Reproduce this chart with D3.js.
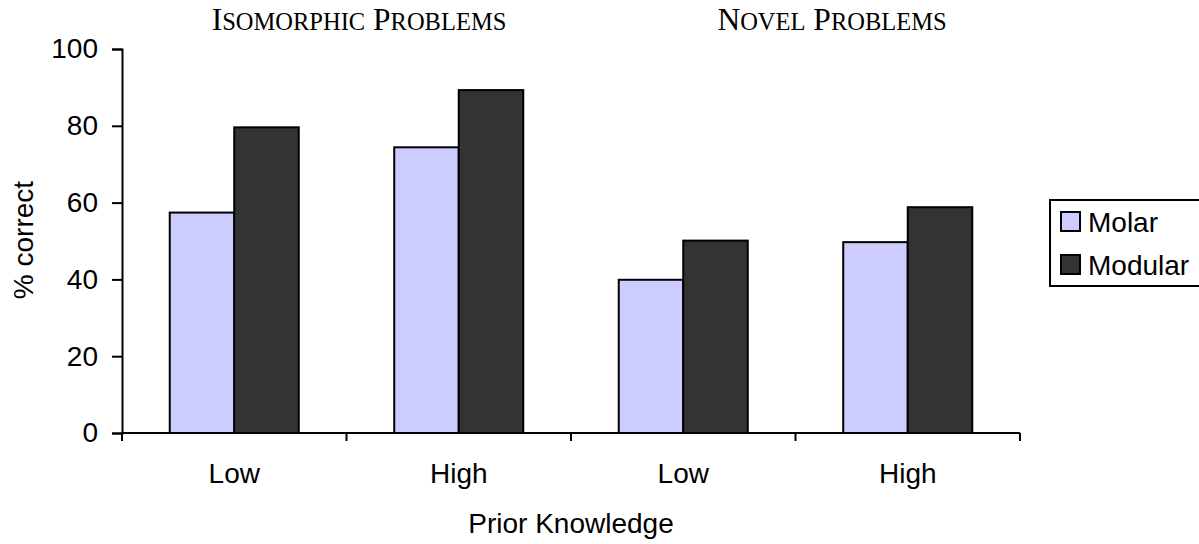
<!DOCTYPE html>
<html>
<head>
<meta charset="utf-8">
<script src="https://cdn.jsdelivr.net/npm/d3@7.9.0/dist/d3.min.js"></script>
<style>
  body { margin: 0; background: #fff; }
  svg { display: block; font-family: "Liberation Sans", Arial, sans-serif; }
  .title { font-family: "Liberation Serif", "Times New Roman", serif; }
</style>
</head>
<body>
<div id="chart"></div>
<script>
// chart data
const groups = ['Isomorphic Problems', 'Novel Problems'];
const levels = ['Low', 'High'];
const series = ['Molar', 'Modular'];
const molar = [57.4, 74.4, 39.9, 49.7];
const modular = [79.6, 89.3, 50.1, 58.8];
const yTicks = [0, 20, 40, 60, 80, 100];
const colors = ['#ccccff', '#333333'];

const width = 1199, height = 544;
const plot = { left: 122, right: 1020, top: 49, bottom: 433 };
const fs = 28;

const cats = groups.flatMap(g => levels.map(l => ({ group: g, level: l, key: g + '|' + l })));
const rows = cats.map((c, i) => ({ ...c, values: [molar[i], modular[i]] }));

const svg = d3.select('#chart').append('svg')
  .attr('width', width)
  .attr('height', height);

const x = d3.scaleBand()
  .domain(cats.map(d => d.key))
  .range([plot.left, plot.right])
  .padding(0);

const xInner = d3.scaleBand()
  .domain(series)
  .range([0, x.bandwidth()])
  .paddingInner(0)
  .paddingOuter(0.74);

const y = d3.scaleLinear()
  .domain([0, 100])
  .range([plot.bottom, plot.top]);

// bars
const cat = svg.append('g').selectAll('g')
  .data(rows)
  .join('g')
  .attr('transform', d => `translate(${x(d.key)},0)`);

cat.selectAll('rect')
  .data(d => d.values.map((v, i) => ({ s: series[i], v, i })))
  .join('rect')
  .attr('x', d => xInner(d.s))
  .attr('width', xInner.bandwidth())
  .attr('y', d => y(d.v))
  .attr('height', d => y(0) - y(d.v))
  .attr('fill', d => colors[d.i])
  .attr('stroke', '#000')
  .attr('stroke-width', 2);

// y axis
const yAxis = svg.append('g')
  .attr('transform', `translate(${plot.left},0)`)
  .call(d3.axisLeft(y).tickValues(yTicks).tickSize(10).tickPadding(14));
yAxis.select('.domain').attr('stroke-width', 2);
yAxis.selectAll('.tick line').attr('stroke-width', 2);
yAxis.selectAll('text')
  .attr('font-size', fs)
  .attr('font-family', '"Liberation Sans", Arial, sans-serif')
  .attr('fill', '#000');

// x axis line + boundary ticks
const xg = svg.append('g');
xg.append('line')
  .attr('x1', plot.left - 1).attr('x2', plot.right)
  .attr('y1', y(0)).attr('y2', y(0))
  .attr('stroke', '#000').attr('stroke-width', 2);
const bounds = cats.map(d => x(d.key)).concat([x(cats[cats.length - 1].key) + x.bandwidth()]);
xg.selectAll('.bt')
  .data(bounds)
  .join('line')
  .attr('x1', d => d).attr('x2', d => d)
  .attr('y1', y(0)).attr('y2', y(0) + 8)
  .attr('stroke', '#000').attr('stroke-width', 2);
xg.selectAll('.lbl')
  .data(cats)
  .join('text')
  .attr('x', d => x(d.key) + x.bandwidth() / 2)
  .attr('y', 483)
  .attr('text-anchor', 'middle')
  .attr('font-size', fs)
  .text(d => d.level);

// group titles, small caps built from tspans
const titleX = [359, 832];
const tBig = 31.5, tSmall = 24.5;
const title = svg.selectAll('.title')
  .data(groups)
  .join('text')
  .attr('class', 'title')
  .attr('x', (d, i) => titleX[i])
  .attr('y', 30)
  .attr('text-anchor', 'middle');
title.each(function (d) {
  const t = d3.select(this);
  d.split(' ').forEach((w, j) => {
    t.append('tspan').attr('font-size', tBig).text((j ? ' ' : '') + w[0]);
    t.append('tspan').attr('font-size', tSmall).text(w.slice(1).toUpperCase());
  });
});

// axis titles
svg.append('text')
  .attr('x', (plot.left + plot.right) / 2)
  .attr('y', 533)
  .attr('text-anchor', 'middle')
  .attr('font-size', fs)
  .text('Prior Knowledge');

svg.append('text')
  .attr('transform', `translate(33,240) rotate(-90)`)
  .attr('text-anchor', 'middle')
  .attr('font-size', fs)
  .text('% correct');

// legend
const legend = svg.append('g').attr('transform', 'translate(1050,200)');
legend.append('rect')
  .attr('width', 170).attr('height', 86)
  .attr('fill', '#fff').attr('stroke', '#000').attr('stroke-width', 2);
const li = legend.selectAll('.li')
  .data(series)
  .join('g')
  .attr('transform', (d, i) => `translate(11,${12 + i * 43})`);
li.append('rect')
  .attr('width', 19).attr('height', 19)
  .attr('fill', (d, i) => colors[i])
  .attr('stroke', '#000').attr('stroke-width', 2);
li.append('text')
  .attr('x', 27).attr('y', 20)
  .attr('font-size', fs)
  .text(d => d);
</script>
</body>
</html>
